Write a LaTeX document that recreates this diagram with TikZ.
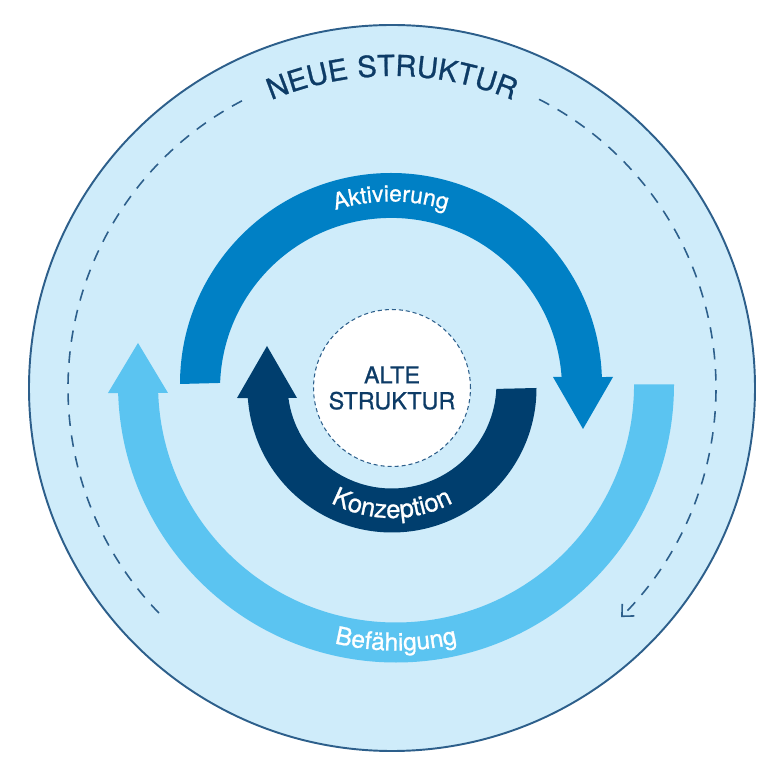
\documentclass[tikz,border=0pt]{standalone}
\usepackage{fontspec}
\setmainfont{TeX Gyre Heros}[FakeBold=0.9]
\usetikzlibrary{decorations.text,arrows.meta}
\definecolor{hellgrund}{HTML}{CFECFA}
\definecolor{rand}{HTML}{2D5F8B}
\definecolor{aktiv}{HTML}{0080C5}
\definecolor{konz}{HTML}{003E6E}
\definecolor{befae}{HTML}{5BC4F1}
\definecolor{schrift}{HTML}{0D3B66}

\begin{document}
\begin{tikzpicture}[x=0.02cm, y=0.02cm,
    strich/.style={rand, line width=0.9pt, dash pattern=on 6.5pt off 5.5pt},
    bogentext/.style={decorate, decoration={text along path, text align=center, text color=#1}}]
  \useasboundingbox (-392,-395) rectangle (386,388);
  \coordinate (mitte) at (0,0);
  \filldraw[fill=hellgrund, draw=rand, line width=1.1pt] (mitte) circle[radius=363];

  \draw[strich] (mitte) ++(224:324) arc[start angle=224, end angle=117, radius=324];
  \draw[strich, -{Straight Barb[length=1.8mm, width=3.4mm]}] (mitte) ++(63:324) arc[start angle=63, end angle=-45, radius=324];
  \path[bogentext=schrift, decoration={text={|\fontsize{16.5}{18}\selectfont\addfontfeature{LetterSpace=4}|NEUE STRUKTUR}}]
    (mitte) ++(150:312) arc[start angle=150, end angle=30, radius=312];

  \fill[befae] (4,3.5) ++(0:278) arc[start angle=0, end angle=-178.2, radius=278]
    -- (-284,-5) -- (-254,45) -- (-224,-5) -- (-233.8,-5) arc[start angle=-177.95, end angle=0, radius=238] -- cycle;
  \fill[aktiv] (-1,4) ++(180:211) arc[start angle=180, end angle=1.9, radius=211]
    -- (221,11) -- (191,-41) -- (161,11) -- (169.6,11) arc[start angle=4, end angle=178, radius=171] -- cycle;
  \fill[konz] (mitte) ++(0:144.5) arc[start angle=0, end angle=-176, radius=144.5]
    -- (-155,-10) -- (-125,42) -- (-95,-10) -- (-103.6,-10) arc[start angle=-172.3, end angle=-2.7, radius=104.5] -- cycle;

  \path[bogentext=white, decoration={text={|\fontsize{13}{15}\selectfont\addfontfeature{LetterSpace=4}|Aktivierung}}]
    (-1,1.5) ++(160:185) arc[start angle=160, end angle=20, radius=185];
  \path[bogentext=white, decoration={text={|\fontsize{14.5}{16}\selectfont\addfontfeature{LetterSpace=4}|Konzeption}}]
    (mitte) ++(-160:130) arc[start angle=-160, end angle=-20, radius=130];
  \path[bogentext=white, decoration={text={|\fontsize{14}{16}\selectfont\addfontfeature{LetterSpace=4}|Befähigung}}]
    (4,3.5) ++(-150:266) arc[start angle=-150, end angle=-30, radius=266];

  \node[circle, fill=white, draw=rand, line width=0.6pt, dash pattern=on 2.3pt off 1.7pt,
    minimum size=3.14cm, inner sep=0pt, align=center, text=schrift,
    font=\fontsize{13.3}{14.7}\selectfont] (alte) at (mitte) {ALTE\\STRUKTUR};
\end{tikzpicture}
\end{document}
